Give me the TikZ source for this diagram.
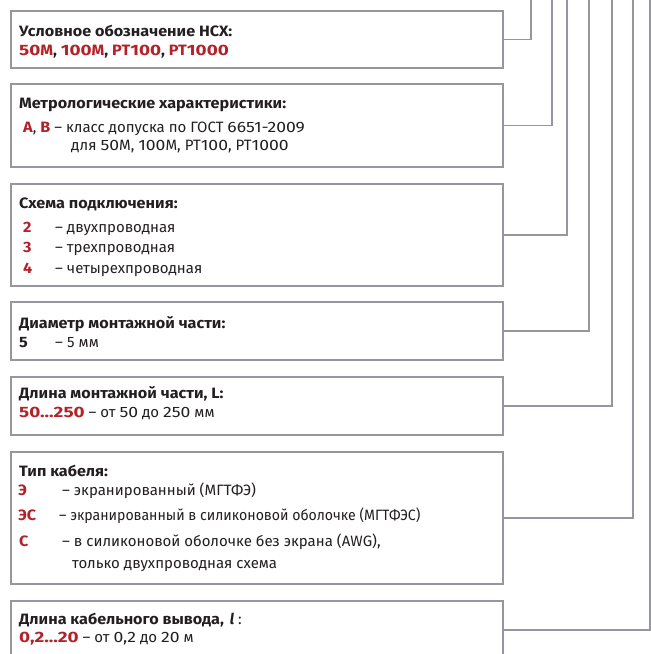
\documentclass[tikz,border=0pt]{standalone}
\usepackage{fontspec}
\setmainfont{Fira Sans}[BoldFeatures={FakeStretch=1.08}]
\newfontfamily\bdigfont{Fira Sans}[FakeStretch=1.26,BoldFeatures={FakeStretch=1.26}]
\definecolor{ln}{RGB}{150,151,156}
\definecolor{rd}{RGB}{178,34,40}
\definecolor{tx}{RGB}{35,31,32}
\newcommand{\D}[1]{{\addfontfeature{FakeStretch=1.17}#1}}
\newcommand{\DB}[1]{{\bdigfont\bfseries #1}}
\newcommand{\rb}[1]{\textcolor{rd}{\bfseries #1}}
\begin{document}
\begin{tikzpicture}[x=1pt,y=-1pt,
  box/.style={draw=ln,line width=1.6pt,minimum width=492pt,anchor=north west,inner sep=0pt},
  conn/.style={draw=ln,line width=1.6pt},
  t/.style={anchor=base west,inner sep=0pt,text=tx,font=\fontsize{15}{17}\selectfont},
  h/.style={t,font=\fontsize{15}{17}\selectfont\bfseries}]
\useasboundingbox (0,0) rectangle (651,654);
\clip (0,0) rectangle (651,654);
% boxes
\node[box,minimum height=57pt] (b1) at (10,10) {};
\node[box,minimum height=83pt] (b2) at (10,83) {};
\node[box,minimum height=102pt] (b3) at (10,183) {};
\node[box,minimum height=58pt] (b4) at (10,301) {};
\node[box,minimum height=58pt] (b5) at (10,376) {};
\node[box,minimum height=132pt] (b6) at (10,451) {};
\node[box,minimum height=58pt] (b7) at (10,600) {};
% connector tops
\coordinate (c1) at (531,0);
\coordinate (c2) at (552,0);
\coordinate (c3) at (567,0);
\coordinate (c4) at (589,0);
\coordinate (c5) at (612,0);
\coordinate (c6) at (633,0);
\coordinate (c7) at (650,0);
\foreach \i in {1,...,7}{\draw[conn] (b\i.east) -| (c\i);}
% box 1
\node[h] (t1a) at (19,36) {Условное обозначение НСХ:};
\node[h] (t1b) at (19,55) {\rb{\DB{50}М}, \rb{\DB{100}М}, \rb{PT\DB{100}}, \rb{PT\DB{1000}}};
% box 2
\node[h] (t2a) at (19,108) {Метрологические характеристики:};
\node[t] (t2b) at (23,132) {\rb{A}, \rb{B} – класс допуска по ГОСТ \D{6651-2009}};
\node[t] (t2c) at (71,150) {для \D{50}М, \D{100}М, PT\D{100}, PT\D{1000}};
% box 3
\node[h] (t3a) at (19,208) {Схема подключения:};
\node[t] (t3b) at (23,232) {\rb{2}};
\node[t] (t3c) at (55,232) {– двухпроводная};
\node[t] (t3d) at (23,252) {\rb{3}};
\node[t] (t3e) at (55,252) {– трехпроводная};
\node[t] (t3f) at (23,273) {\rb{4}};
\node[t] (t3g) at (55,273) {– четырехпроводная};
% box 4
\node[h] (t4a) at (19,328) {Диаметр монтажной части:};
\node[h] (t4b) at (19,347) {5};
\node[t] (t4c) at (55,347) {–};
\node[t] (t4d) at (67,347) {5 мм};
% box 5
\node[h] (t5a) at (19,398) {Длина монтажной части, L:};
\node[t] (t5b) at (19,417) {\rb{\DB{50...250}} – от \D{50} до \D{250} мм};
% box 6
\node[h] (t6a) at (19,476) {Тип кабеля:};
\node[t] (t6b) at (18,495) {\rb{Э}};
\node[t] (t6c) at (62,495) {– экранированный (МГТФЭ)};
\node[t] (t6d) at (18,520) {\rb{ЭС}};
\node[t] (t6e) at (59,520) {\addfontfeature{FakeStretch=0.94}– экранированный в силиконовой оболочке (МГТФЭС)};
\node[t] (t6f) at (19,546) {\rb{С}};
\node[t] (t6g) at (62,546) {– в силиконовой оболочке без экрана (AWG),};
\node[t] (t6h) at (72,568) {только двухпроводная схема};
% box 7
\node[t] (t7a) at (19,624) {\textbf{Длина кабельного вывода,\hspace{6pt}\textit{l}}\hspace{4pt}:};
\node[t] (t7b) at (19,642) {\rb{\DB{0,2...20}} – от \D{0,2} до \D{20} м};
\end{tikzpicture}
\end{document}
